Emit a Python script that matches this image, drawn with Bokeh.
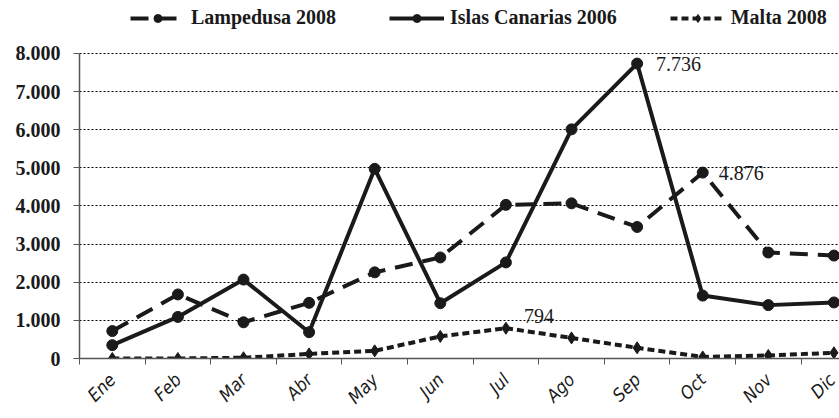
from math import pi
from bokeh.plotting import figure
from bokeh.models import ColumnDataSource, Range1d, FixedTicker, Legend, LegendItem
from bokeh.core.properties import value
from bokeh.embed import file_html
from bokeh.resources import INLINE

months = ["Ene", "Feb", "Mar", "Abr", "May", "Jun", "Jul", "Ago", "Sep", "Oct", "Nov", "Dic"]
lampedusa_2008 = [720, 1680, 950, 1460, 2260, 2650, 4030, 4070, 3450, 4876, 2780, 2700]
canarias_2006 = [350, 1090, 2070, 690, 4975, 1450, 2520, 6010, 7736, 1650, 1400, 1470]
malta_2008 = [0, 0, 20, 120, 200, 580, 794, 540, 280, 40, 80, 150]
y_ticks = [0, 1000, 2000, 3000, 4000, 5000, 6000, 7000, 8000]
y_tick_labels = ["0", "1.000", "2.000", "3.000", "4.000", "5.000", "6.000", "7.000", "8.000"]
series_names = ["Lampedusa 2008", "Islas Canarias 2006", "Malta 2008"]

x = list(range(len(months)))
src = ColumnDataSource(dict(x=x, lam=lampedusa_2008, can=canarias_2006, mal=malta_2008))

ink = "#1a1a1a"
lw = 4
styles = [
    dict(dash="18 10", marker="circle", size=11),
    dict(dash="solid", marker="circle", size=11),
    dict(dash="7 4", marker="diamond", size=12),
]

# frame reaches the top of the canvas so the legend can sit above the 8.000 line
p = figure(width=839, height=418, output_backend="svg", toolbar_location=None,
           x_range=Range1d(-0.5, 11.085), y_range=Range1d(0, 9390),
           min_border_left=79, min_border_right=0, min_border_top=0, min_border_bottom=58)
p.outline_line_color = None

# grid
p.xgrid.grid_line_color = None
p.ygrid.ticker = FixedTicker(ticks=y_ticks)
p.ygrid.grid_line_color = "black"
p.ygrid.grid_line_dash = "2 2"
p.ygrid.grid_line_width = 1

# y axis
ya = p.yaxis[0]
ya.bounds = (y_ticks[0], y_ticks[-1])
ya.ticker = FixedTicker(ticks=y_ticks)
ya.major_label_overrides = {t: l for t, l in zip(y_ticks, y_tick_labels)}
ya.axis_line_color = "#555555"
ya.axis_line_width = 1.5
ya.major_tick_line_color = "#555555"
ya.major_tick_out = 6
ya.major_tick_in = 0
ya.minor_tick_line_color = None
ya.major_label_standoff = 13
ya.major_label_text_font = "Liberation Serif"
ya.major_label_text_font_style = "bold"
ya.major_label_text_font_size = "20px"
ya.major_label_text_color = ink

# x axis
xa = p.xaxis[0]
xa.ticker = FixedTicker(ticks=x, minor_ticks=[i - 0.5 for i in range(len(months) + 1)])
xa.major_label_overrides = {i: m for i, m in enumerate(months)}
xa.major_label_orientation = pi / 4
xa.axis_line_color = "#555555"
xa.axis_line_width = 1.5
xa.major_tick_line_color = None
xa.minor_tick_line_color = "#555555"
xa.minor_tick_out = 6
xa.minor_tick_in = 0
xa.major_label_standoff = 12
xa.major_label_text_font = "Liberation Sans Narrow, DejaVu Sans Condensed, Liberation Sans"
xa.major_label_text_font_style = "italic"
xa.major_label_text_font_size = "18px"
xa.major_label_text_color = ink

items = []
for name, col, st in zip(series_names, ["lam", "can", "mal"], styles):
    r1 = p.line("x", col, source=src, line_color=ink, line_width=lw, line_dash=st["dash"])
    r2 = p.scatter("x", col, source=src, marker=st["marker"], size=st["size"], color=ink)
    items.append(LegendItem(label=name, renderers=[r1, r2]))

# value labels
ann_src = ColumnDataSource(dict(
    x=[8, 9, 6],
    y=[canarias_2006[8], lampedusa_2008[9], malta_2008[6]],
    t=["7.736", "4.876", "794"],
    xo=[19, 16, 18],
    yo=[0, 0, -12],
))
p.text("x", "y", text="t", source=ann_src, x_offset="xo", y_offset="yo",
       text_font=value("Liberation Serif"), text_font_size="20px",
       text_baseline="middle", text_align="left", text_color=ink)

legend = Legend(items=items, orientation="horizontal", location=(51, 329))
legend.border_line_color = None
legend.background_fill_alpha = 0
legend.label_text_font = "Liberation Serif"
legend.label_text_font_style = "bold"
legend.label_text_font_size = "20px"
legend.label_text_color = ink
legend.glyph_width = 55
legend.label_standoff = 6
legend.spacing = 53
legend.padding = 0
legend.margin = 0
p.add_layout(legend)

open("out.html", "w").write(file_html(p, INLINE))
